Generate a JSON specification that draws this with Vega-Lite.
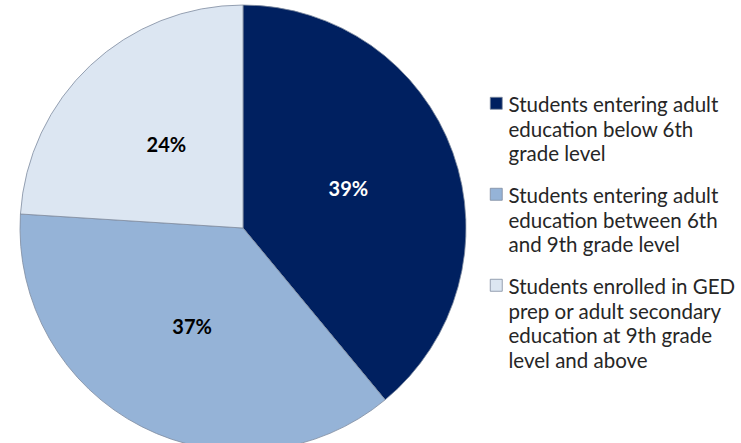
{
  "$schema": "https://vega.github.io/schema/vega-lite/v6.json",
  "width": 450,
  "height": 456,
  "padding": {"left": 18, "top": 0, "right": 0, "bottom": 0},
  "autosize": {"type": "pad"},
  "background": "white",
  "data": {
    "values": [
      {"category": "Students entering adult education below 6th grade level", "value": 39, "label": "39%", "order": 1},
      {"category": "Students entering adult education between 6th and 9th grade level", "value": 37, "label": "37%", "order": 2},
      {"category": "Students enrolled in GED prep or adult secondary education at 9th grade level and above", "value": 24, "label": "24%", "order": 3}
    ]
  },
  "encoding": {
    "theta": {"field": "value", "type": "quantitative", "stack": true},
    "order": {"field": "order", "type": "quantitative"},
    "color": {
      "field": "category",
      "type": "nominal",
      "sort": null,
      "scale": {
        "domain": [
          "Students entering adult education below 6th grade level",
          "Students entering adult education between 6th and 9th grade level",
          "Students enrolled in GED prep or adult secondary education at 9th grade level and above"
        ],
        "range": ["#002060", "#95B3D7", "#DCE6F2"]
      },
      "legend": {
        "title": null,
        "orient": "none",
        "legendX": 468,
        "legendY": 86,
        "padding": 0,
        "symbolType": "M-1,0.17H1V2.17H-1Z",
        "symbolSize": 144,
        "symbolStrokeColor": "#7F8CA0",
        "symbolStrokeWidth": 0.8,
        "labelFont": "Lato",
        "labelFontSize": 20.5,
        "labelColor": "#262626",
        "labelOffset": 2,
        "labelLimit": 400,
        "labelBaseline": "top",
        "rowPadding": 11,
        "labelExpr": "datum.label == 'Students entering adult education below 6th grade level' ? ['Students entering adult', 'education below 6th', 'grade level'] : datum.label == 'Students entering adult education between 6th and 9th grade level' ? ['Students entering adult', 'education between 6th', 'and 9th grade level'] : ['Students enrolled in GED', 'prep or adult secondary', 'education at 9th grade', 'level and above']",
        "encode": {"labels": {"update": {"lineHeight": {"value": 24.5}}}}
      }
    }
  },
  "layer": [
    {
      "mark": {"type": "arc", "outerRadius": 223, "stroke": "#7F8CA0", "strokeWidth": 0.8}
    },
    {
      "mark": {"type": "text", "radius": 112, "font": "Lato", "fontSize": 20, "fontWeight": "bold"},
      "encoding": {
        "text": {"field": "label"},
        "color": {
          "condition": {"test": "datum.order == 1", "value": "white"},
          "value": "black"
        }
      }
    }
  ]
}
